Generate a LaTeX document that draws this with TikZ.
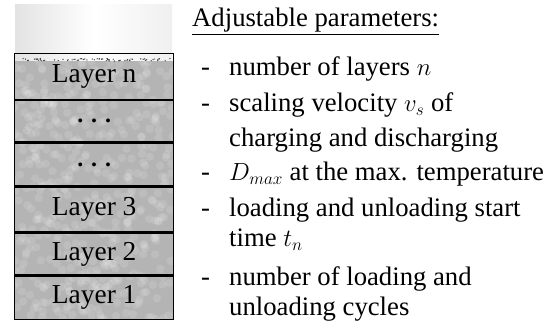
\documentclass[tikz,border=0pt]{standalone}
\usepackage{fontspec}
\setmainfont{Liberation Serif}
\usetikzlibrary{positioning}
\definecolor{layergray}{HTML}{B4B4B4}
\begin{document}
\begin{tikzpicture}[x=1bp, y=1bp,
  layer box/.style={draw, line width=1.4bp, minimum width=159bp, inner sep=0pt, font=\fontsize{27.5}{31}\selectfont},
  layer dots/.style={font=\fontsize{24}{30}\selectfont\bfseries},
  param/.style={anchor=base west, inner sep=0pt, font=\fontsize{26.8}{31}\selectfont}]
	\useasboundingbox (0,0) rectangle (554,322);
	% empty upper part of the storage
	\shade[left color=gray!22, right color=gray!12, middle color=white] (15,261) rectangle (172,317);
	% packed bed with pebble texture
	\fill[layergray] (14,2) rectangle (173,261);
	\begin{scope}
		\clip (14,2) rectangle (173,261);
		\pgfmathsetseed{7}
		\foreach \i in {1,...,520} {
			\pgfmathsetmacro\cx{14+159*rnd}
			\pgfmathsetmacro\cy{2+259*rnd}
			\fill[white, opacity=0.13] (\cx,\cy) circle (4.2bp);
		}
	\end{scope}
	% rough surface on top of the bed
	\foreach \i in {1,...,70} {
		\pgfmathsetmacro\gx{16+155*rnd}
		\pgfmathsetmacro\gy{261+2.5*rnd}
		\fill[black!75] (\gx,\gy) circle (0.7bp);
	}
	\node[layer box, minimum height=43bp, anchor=south west] (L1) at (14,2) {Layer 1};
	\node[layer box, minimum height=42bp] (L2) [above=0pt of L1] {Layer 2};
	\node[layer box, minimum height=44bp] (L3) [above=0pt of L2] {Layer 3};
	\node[layer box, minimum height=43bp] (L4) [above=0pt of L3] {};
	\node[layer box, minimum height=41bp] (L5) [above=0pt of L4] {};
	\node[layer box, minimum height=46bp] (Ln) [above=0pt of L5] {Layer n};
	\node[layer dots] (dots1) at (L4.center) {.\,\,.\,\,.};
	\node[layer dots] (dots2) at (L5.center) {.\,\,.\,\,.};
	% parameter list
	\node[param] (head) at (192,295.3) {\underline{Adjustable parameters:}};
	\foreach \y [count=\k] in {246.7,210.3,141.3,106,37}
		\node[param] (d\k) at (201,\y) {-};
	\node[param] (p1) at (229,246.7) {number of layers $n$};
	\node[param] (p2) at (229,210.3) {scaling velocity $v_s$ of};
	\node[param] (p2b) at (229,175.3) {charging and discharging};
	\node[param] (p3) at (229,141.3) {$D_{max}$ at the max. temperature};
	\node[param] (p4) at (229,106) {loading and unloading start};
	\node[param] (p4b) at (229,75.3) {time $t_n$};
	\node[param] (p5) at (229,37) {number of loading and};
	\node[param] (p5b) at (229,6.3) {unloading cycles};
\end{tikzpicture}
\end{document}
